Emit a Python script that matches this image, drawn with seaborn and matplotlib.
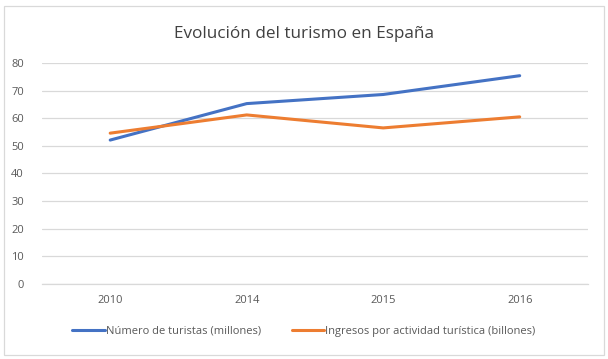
import matplotlib
matplotlib.use("Agg")
import matplotlib.pyplot as plt
import seaborn as sns
import pandas as pd
from matplotlib.patches import Rectangle

years = ["2010", "2014", "2015", "2016"]
turistas = [52.1, 65.3, 68.6, 75.4]
ingresos = [54.6, 61.2, 56.5, 60.5]
serie_turistas = "Número de turistas (millones)"
serie_ingresos = "Ingresos por actividad turística (billones)"
title = "Evolución del turismo en España"
yticks = [0, 10, 20, 30, 40, 50, 60, 70, 80]

df = pd.DataFrame({
    "year": years * 2,
    "value": turistas + ingresos,
    "serie": [serie_turistas] * len(years) + [serie_ingresos] * len(years),
})

sns.set_theme(style="white")
plt.rcParams['font.family'] = ['Open Sans', 'DejaVu Sans']

fig = plt.figure(figsize=(6.08, 3.59), dpi=100)
ax = fig.add_axes([0.069, 0.209, 0.898, 0.6155])

sns.lineplot(data=df, x="year", y="value", hue="serie", sort=False,
             palette=["#4472C4", "#ED7D31"], linewidth=2.2, ax=ax, legend=True)

ax.set_xlim(-0.5, len(years) - 0.5)
ax.set_ylim(0, 80)
ax.set_yticks(yticks)
ax.yaxis.grid(True, color="#D9D9D9", linewidth=0.9)
ax.xaxis.grid(False)
for s in ["top", "right", "left"]:
    ax.spines[s].set_visible(False)
ax.spines["bottom"].set_color("#D9D9D9")
ax.spines["bottom"].set_linewidth(0.9)
ax.tick_params(axis="both", length=0, labelsize=8, labelcolor="#595959")
ax.tick_params(axis="x", pad=8)
ax.tick_params(axis="y", pad=13)
ax.set_xlabel("")
ax.set_ylabel("")

fig.text(0.5, 0.905, title, ha="center", va="center", fontsize=12.3, color="#404040")

handles, labels = ax.get_legend_handles_labels()
ax.legend(handles, labels, loc="center", bbox_to_anchor=(0.5, 0.077),
          bbox_transform=fig.transFigure, ncol=2, frameon=False,
          fontsize=8, handlelength=2.9, handletextpad=0.1, columnspacing=2.8,
          labelcolor="#595959")

fig.patches.append(Rectangle((0.007, 0.012), 0.986, 0.972, transform=fig.transFigure,
                             fill=False, edgecolor="#D9D9D9", linewidth=0.9))

fig.savefig("out.png", dpi=100)
